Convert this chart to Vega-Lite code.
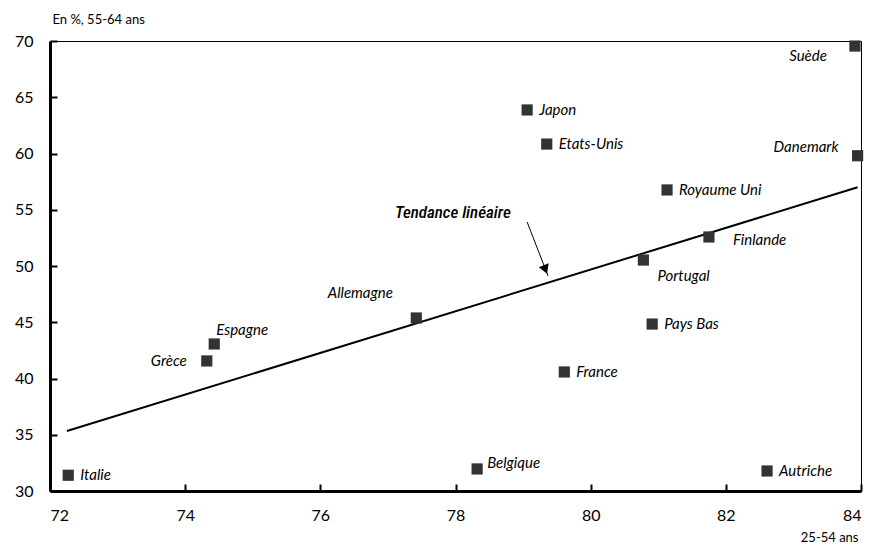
{
  "$schema": "https://vega.github.io/schema/vega-lite/v6.json",
  "width": 811,
  "height": 450,
  "autosize": {"type": "none"},
  "padding": {"left": 50, "top": 41, "right": 11, "bottom": 60},
  "background": "white",
  "config": {
    "view": {"stroke": "black", "strokeWidth": 1},
    "font": "Lato",
    "axis": {
      "grid": false,
      "domainColor": "black",
      "domainWidth": 3,
      "tickColor": "black",
      "tickWidth": 2,
      "tickSize": -7,
      "labelFont": "Lato",
      "labelFontSize": 16,
      "labelColor": "black",
      "titleFont": "Lato",
      "titleFontWeight": "normal",
      "titleFontSize": 13,
      "titleColor": "black"
    }
  },
  "datasets": {
    "pays": [
      {"pays": "Suède", "x": 83.91, "y": 69.55},
      {"pays": "Danemark", "x": 83.95, "y": 59.8},
      {"pays": "Japon", "x": 79.06, "y": 63.87},
      {"pays": "Etats-Unis", "x": 79.35, "y": 60.84},
      {"pays": "Royaume Uni", "x": 81.13, "y": 56.76},
      {"pays": "Finlande", "x": 81.75, "y": 52.58},
      {"pays": "Portugal", "x": 80.78, "y": 50.53},
      {"pays": "Pays Bas", "x": 80.91, "y": 44.84},
      {"pays": "France", "x": 79.61, "y": 40.58},
      {"pays": "Allemagne", "x": 77.42, "y": 45.38},
      {"pays": "Espagne", "x": 74.43, "y": 43.07},
      {"pays": "Grèce", "x": 74.32, "y": 41.56},
      {"pays": "Italie", "x": 72.27, "y": 31.4},
      {"pays": "Belgique", "x": 78.32, "y": 31.96},
      {"pays": "Autriche", "x": 82.61, "y": 31.78}
    ],
    "tendance": [{"x": 72.25, "y": 35.33, "x2": 83.95, "y2": 57.0}],
    "fleche": [{"x": 79.06, "y": 53.91, "x2": 79.37, "y2": 49.11}],
    "pointe": [{"x": 79.33, "y": 49.69}],
    "note": [{"x": 77.96, "y": 54.71, "texte": "Tendance linéaire"}]
  },
  "encoding": {
    "x": {
      "field": "x", "type": "quantitative",
      "scale": {"domain": [72, 84], "nice": false, "zero": false},
      "axis": {
        "values": [72, 74, 76, 78, 80, 82, 84],
        "labelPadding": 23,
        "title": "25-54 ans",
        "titleAlign": "right",
        "titleAnchor": null,
        "titleX": 808,
        "titleY": 50,
        "titleBaseline": "alphabetic"
      }
    },
    "y": {
      "field": "y", "type": "quantitative",
      "scale": {"domain": [30, 70], "nice": false, "zero": false},
      "axis": {
        "values": [30, 35, 40, 45, 50, 55, 60, 65, 70],
        "labelPadding": 24,
        "title": "En %, 55-64 ans",
        "titleAngle": 0,
        "titleAlign": "left",
        "titleAnchor": null,
        "titleX": 2,
        "titleY": -18,
        "titleBaseline": "alphabetic"
      }
    }
  },
  "layer": [
    {
      "data": {"name": "tendance"},
      "mark": {"type": "rule", "color": "black", "strokeWidth": 2},
      "encoding": {"x2": {"field": "x2"}, "y2": {"field": "y2"}}
    },
    {
      "data": {"name": "fleche"},
      "mark": {"type": "rule", "color": "black", "strokeWidth": 1},
      "encoding": {"x2": {"field": "x2"}, "y2": {"field": "y2"}}
    },
    {
      "data": {"name": "pointe"},
      "mark": {"type": "point", "shape": "triangle-down", "filled": true, "color": "black", "opacity": 1, "size": 110, "angle": 339},
      "encoding": {}
    },
    {
      "data": {"name": "note"},
      "mark": {"type": "text", "font": "Roboto Condensed, Roboto", "fontStyle": "italic", "fontWeight": 500, "fontSize": 17, "color": "black", "align": "center", "baseline": "middle"},
      "encoding": {"text": {"field": "texte"}}
    },
    {
      "data": {"name": "pays"},
      "mark": {"type": "point", "shape": "square", "filled": true, "color": "#333333", "opacity": 1, "size": 125},
      "encoding": {}
    },
    {
      "data": {"name": "pays"},
      "transform": [{"filter": {"field": "pays", "oneOf": ["Japon", "Etats-Unis", "Royaume Uni", "Pays Bas", "France", "Italie", "Autriche"]}}],
      "mark": {"type": "text", "fontStyle": "italic", "fontSize": 15, "color": "black", "align": "left", "baseline": "middle", "dx": 12, "dy": 0},
      "encoding": {"text": {"field": "pays"}}
    },
    {
      "data": {"name": "pays"},
      "transform": [{"filter": {"field": "pays", "equal": "Belgique"}}],
      "mark": {"type": "text", "fontStyle": "italic", "fontSize": 15, "color": "black", "align": "left", "baseline": "middle", "dx": 10, "dy": -6},
      "encoding": {"text": {"field": "pays"}}
    },
    {
      "data": {"name": "pays"},
      "transform": [{"filter": {"field": "pays", "equal": "Finlande"}}],
      "mark": {"type": "text", "fontStyle": "italic", "fontSize": 15, "color": "black", "align": "left", "baseline": "middle", "dx": 24, "dy": 3},
      "encoding": {"text": {"field": "pays"}}
    },
    {
      "data": {"name": "pays"},
      "transform": [{"filter": {"field": "pays", "equal": "Portugal"}}],
      "mark": {"type": "text", "fontStyle": "italic", "fontSize": 15, "color": "black", "align": "left", "baseline": "middle", "dx": 14, "dy": 16},
      "encoding": {"text": {"field": "pays"}}
    },
    {
      "data": {"name": "pays"},
      "transform": [{"filter": {"field": "pays", "equal": "Espagne"}}],
      "mark": {"type": "text", "fontStyle": "italic", "fontSize": 15, "color": "black", "align": "left", "baseline": "middle", "dx": 2, "dy": -14},
      "encoding": {"text": {"field": "pays"}}
    },
    {
      "data": {"name": "pays"},
      "transform": [{"filter": {"field": "pays", "equal": "Grèce"}}],
      "mark": {"type": "text", "fontStyle": "italic", "fontSize": 15, "color": "black", "align": "right", "baseline": "middle", "dx": -20, "dy": 0},
      "encoding": {"text": {"field": "pays"}}
    },
    {
      "data": {"name": "pays"},
      "transform": [{"filter": {"field": "pays", "equal": "Suède"}}],
      "mark": {"type": "text", "fontStyle": "italic", "fontSize": 15, "color": "black", "align": "right", "baseline": "middle", "dx": -28, "dy": 10},
      "encoding": {"text": {"field": "pays"}}
    },
    {
      "data": {"name": "pays"},
      "transform": [{"filter": {"field": "pays", "equal": "Danemark"}}],
      "mark": {"type": "text", "fontStyle": "italic", "fontSize": 15, "color": "black", "align": "right", "baseline": "middle", "dx": -19, "dy": -9},
      "encoding": {"text": {"field": "pays"}}
    },
    {
      "data": {"name": "pays"},
      "transform": [{"filter": {"field": "pays", "equal": "Allemagne"}}],
      "mark": {"type": "text", "fontStyle": "italic", "fontSize": 15, "color": "black", "align": "center", "baseline": "middle", "dx": -56, "dy": -25},
      "encoding": {"text": {"field": "pays"}}
    }
  ]
}
